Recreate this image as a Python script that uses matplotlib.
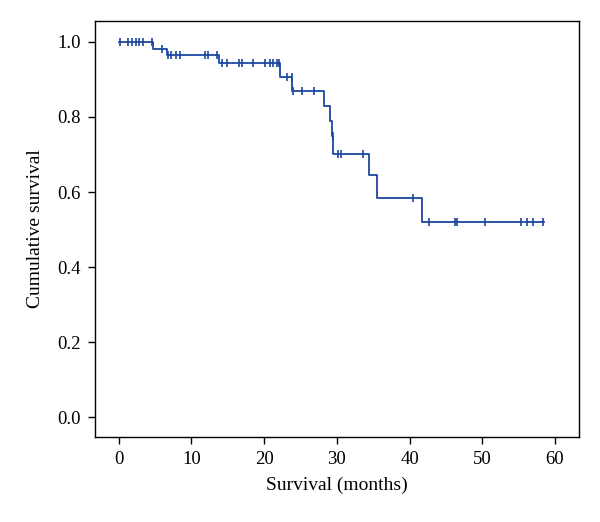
#!/usr/bin/env python3
"""Kaplan-Meier style cumulative survival curve with censoring ticks."""

import matplotlib

matplotlib.use("Agg")
import matplotlib.pyplot as plt
import numpy as np

LINE_COLOR = "#1c47a0"

# step curve: event times (months) and survival level after each step
STEP_TIMES = [0.0, 4.76, 6.6, 13.84, 22.19, 23.88, 28.24, 29.07, 29.38, 29.52, 34.43, 35.49, 41.72]
STEP_LEVELS = [1.0, 0.982, 0.964, 0.943, 0.905, 0.870, 0.830, 0.789, 0.748, 0.701, 0.645, 0.585, 0.521]
END_TIME = 58.5

# censored observations (months)
CENSOR_TIMES = [
    0.18, 1.32, 1.87, 2.34, 2.83, 3.30, 4.54,
    6.0,
    6.78, 7.24, 7.84, 8.43, 11.87, 12.32, 13.48,
    14.17, 14.86, 16.59, 17.0, 18.51, 20.12, 20.81, 21.27, 21.73, 22.05,
    23.19, 23.80,
    24.02, 25.25, 26.9,
    29.45,
    30.12, 30.54, 33.65,
    40.44,
    42.64, 46.3, 46.5, 50.33, 55.3, 56.12, 56.95, 58.4,
]

X_TICKS = [0, 10, 20, 30, 40, 50, 60]
Y_TICKS = [0.0, 0.2, 0.4, 0.6, 0.8, 1.0]

plt.rcParams.update(
    {
        "font.family": "serif",
        "font.serif": ["Liberation Serif", "DejaVu Serif"],
    }
)


def level_at(t):
    idx = np.searchsorted(STEP_TIMES, t, side="right") - 1
    return STEP_LEVELS[max(idx, 0)]


fig = plt.figure(figsize=(6.0, 5.22), dpi=100)
ax = fig.add_axes([0.1583, 0.1623, 0.8072, 0.798])

xs = list(STEP_TIMES) + [END_TIME]
ys = list(STEP_LEVELS) + [STEP_LEVELS[-1]]
ax.step(xs, ys, where="post", color=LINE_COLOR, linewidth=1.3)

cy = [level_at(t) for t in CENSOR_TIMES]
ax.plot(CENSOR_TIMES, cy, linestyle="none", marker="|", markersize=6,
        markeredgewidth=1.2, color=LINE_COLOR)

ax.set_xlim(-3.26, 63.35)
ax.set_ylim(-0.053, 1.056)
ax.set_xticks(X_TICKS)
ax.set_yticks(Y_TICKS)
ax.set_yticklabels([f"{v:.1f}" for v in Y_TICKS])
ax.tick_params(direction="out", length=5, width=1.0, labelsize=13.5, pad=5)
for spine in ax.spines.values():
    spine.set_linewidth(1.0)

ax.set_xlabel("Survival (months)", fontsize=14, labelpad=6)
ax.set_ylabel("Cumulative survival", fontsize=14, labelpad=10)

fig.savefig("out.png", dpi=100)
